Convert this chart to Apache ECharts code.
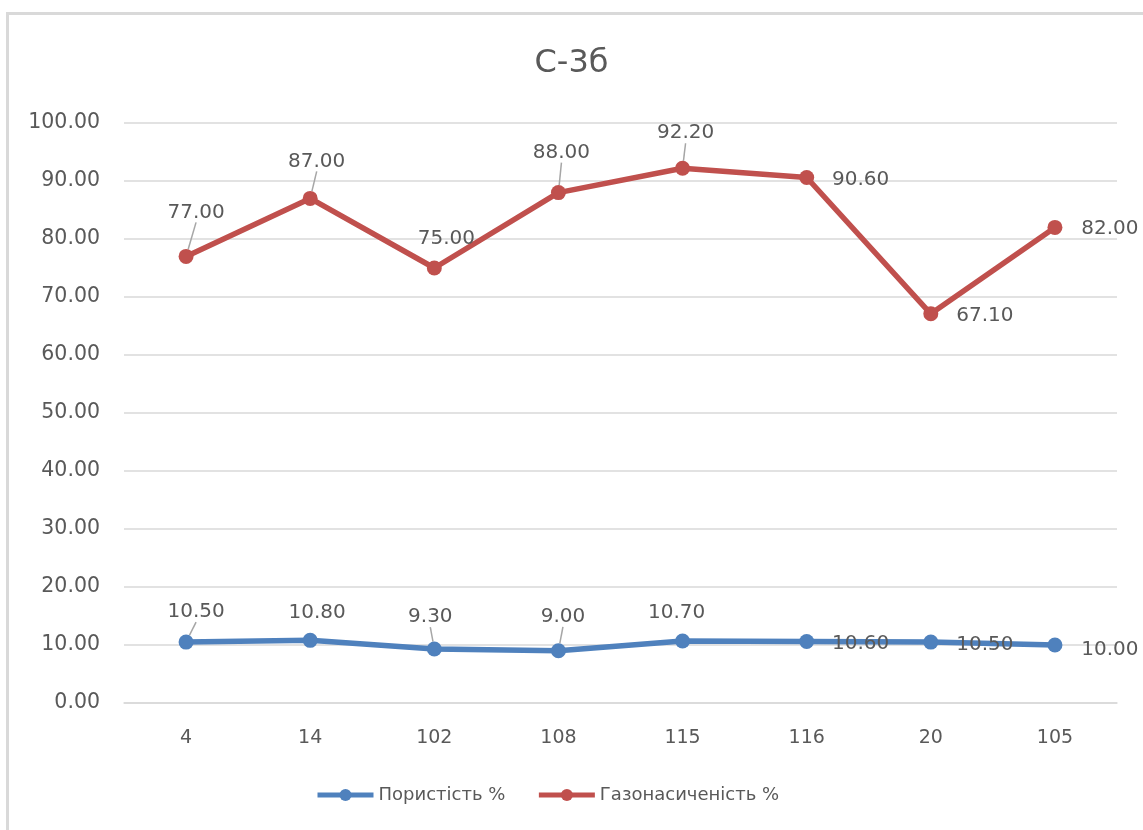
<!DOCTYPE html>
<html>
<head>
<meta charset="utf-8">
<script src="https://cdn.jsdelivr.net/npm/echarts@6/dist/echarts.min.js"></script>
<style>
html,body{margin:0;padding:0;background:#fff;}
#frame{position:absolute;left:6px;top:12px;width:1200px;height:900px;border-left:3px solid #D9D9D9;border-top:3px solid #D9D9D9;box-sizing:border-box;}
#chart{position:absolute;left:0;top:0;width:1143px;height:830px;}
</style>
</head>
<body>
<div id="frame"></div>
<div id="chart"></div>
<script>
const categories = ['4', '14', '102', '108', '115', '116', '20', '105'];
const porosity = [10.50, 10.80, 9.30, 9.00, 10.70, 10.60, 10.50, 10.00];
const gasSaturation = [77.00, 87.00, 75.00, 88.00, 92.20, 90.60, 67.10, 82.00];
const seriesNames = ['Пористість %', 'Газонасиченість %'];
const titleText = 'С-3б';

// label offsets (dx, dy from point centre) and leader-line flags
const porosityLabelOffsets = [[10,-30],[7,-28],[-4,-32],[4.5,-34],[-6,-28],[54,2.5],[54,3],[55,5]];
const porosityLeader = [true,false,true,true,false,false,false,false];
const gasLabelOffsets = [[10,-44],[6.5,-37],[12,-29],[3,-40],[3,-35],[54,2.5],[54,2],[55,1]];
const gasLeader = [true,true,false,true,true,false,false,false];

const FONT = 'DejaVu Sans';
const TXT = '#595959';

function buildData(values, leaders) {
  return values.map((v, i) => ({
    value: v,
    labelLine: { show: leaders[i] }
  }));
}

const chart = echarts.init(document.getElementById('chart'), null, { renderer: 'canvas' });

function mkSeries(name, values, color, offsets, leaders) {
  return {
    name: name,
    type: 'line',
    data: buildData(values, leaders),
    symbol: 'circle',
    symbolSize: 15,
    lineStyle: { color: color, width: 5.5 },
    itemStyle: { color: color },
    label: {
      show: true,
      position: 'inside',
      formatter: p => Number(p.value).toFixed(2),
      color: TXT,
      fontFamily: FONT,
      fontSize: 20
    },
    labelLine: {
      show: false,
      lineStyle: { color: '#A6A6A6', width: 1.5 },
      length2: 0
    },
    labelLayout: function (params) {
      const o = offsets[params.dataIndex];
      return { dx: o[0], dy: o[1] };
    },
    emphasis: { disabled: true },
    animation: false
  };
}

chart.setOption({
  animation: false,
  backgroundColor: 'transparent',
  title: {
    text: titleText,
    left: 'center',
    top: 43,
    textStyle: { color: TXT, fontFamily: FONT, fontSize: 32, fontWeight: 'normal' }
  },
  grid: { left: 124, right: 26, top: 123, bottom: 127, containLabel: false },
  legend: {
    bottom: 21,
    left: 310,
    itemWidth: 56,
    itemHeight: 15,
    itemGap: 31,
    lineStyle: { width: 5 },
    textStyle: { color: TXT, fontFamily: FONT, fontSize: 18 },
    data: seriesNames
  },
  xAxis: {
    type: 'category',
    data: categories,
    boundaryGap: true,
    axisLine: { lineStyle: { color: '#D9D9D9', width: 1.5 } },
    axisTick: { show: false },
    axisLabel: { color: TXT, fontFamily: FONT, fontSize: 19, margin: 26 }
  },
  yAxis: {
    type: 'value',
    min: 0,
    max: 100,
    interval: 10,
    axisLine: { show: false },
    axisTick: { show: false },
    splitLine: { lineStyle: { color: '#D9D9D9', width: 1.5 } },
    axisLabel: {
      color: TXT, fontFamily: FONT, fontSize: 20.5, margin: 24,
      formatter: v => v.toFixed(2)
    }
  },
  series: [
    mkSeries(seriesNames[0], porosity, '#4F81BD', porosityLabelOffsets, porosityLeader),
    mkSeries(seriesNames[1], gasSaturation, '#C0504D', gasLabelOffsets, gasLeader)
  ]
});
</script>
</body>
</html>
